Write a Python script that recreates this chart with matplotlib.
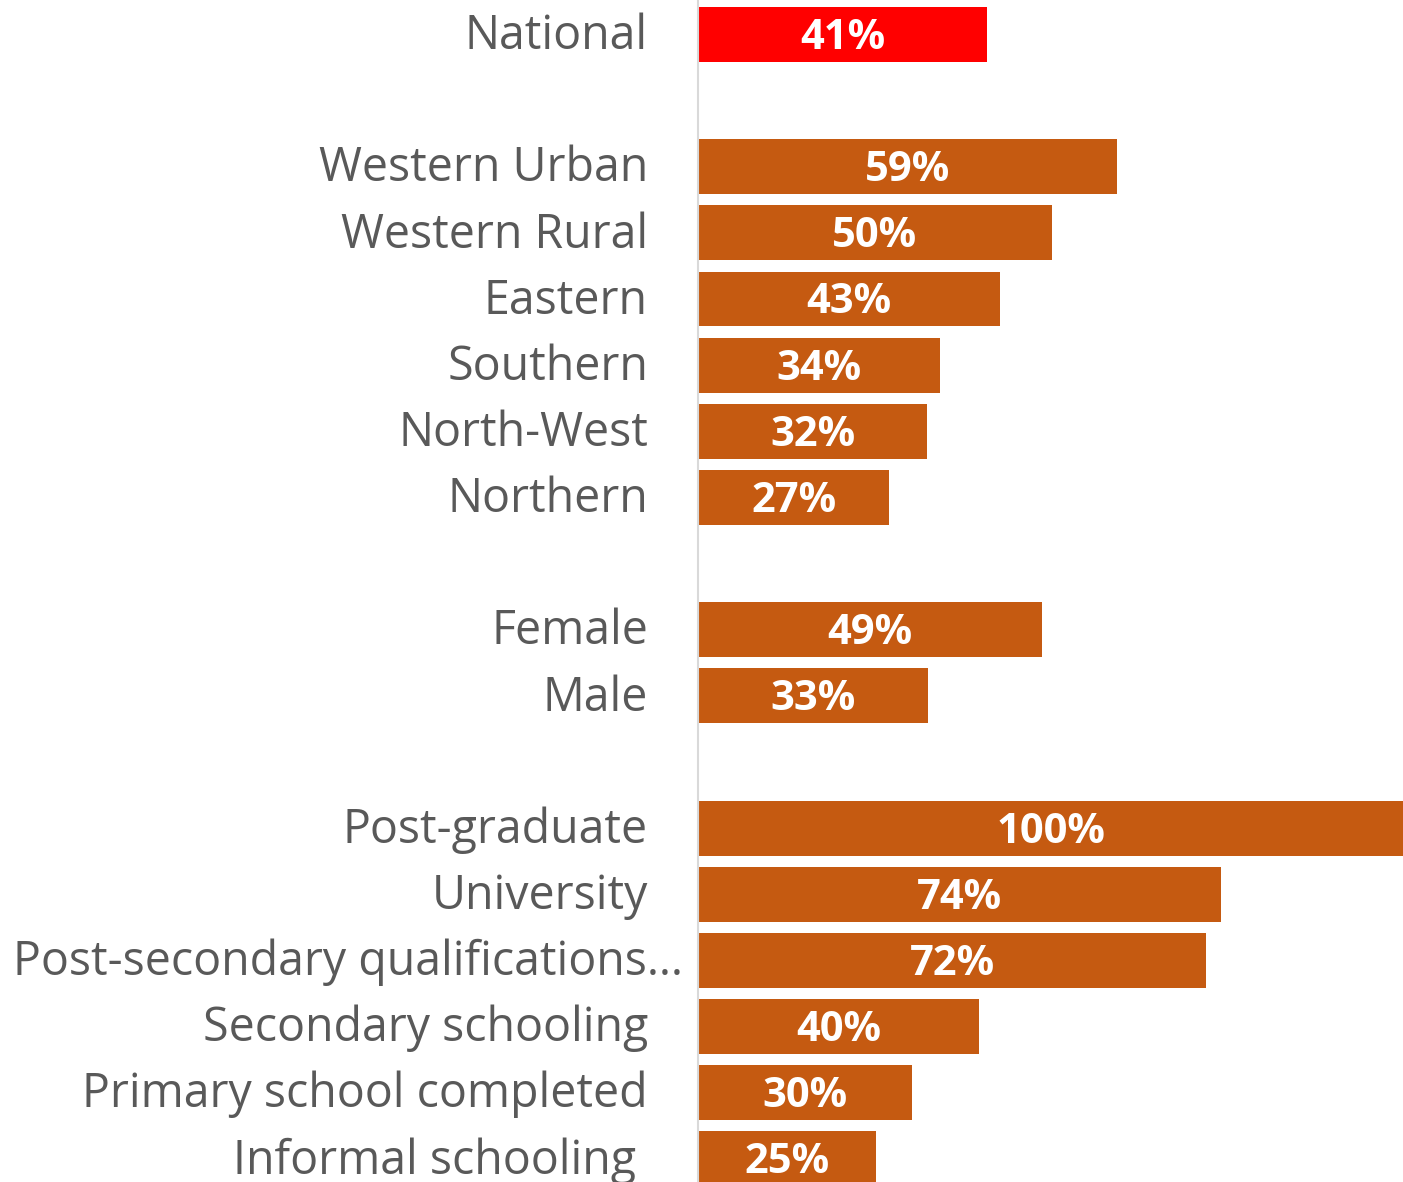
import matplotlib.pyplot as plt

# categories (top to bottom), None = blank spacer row
labels = ["National", None,
          "Western Urban", "Western Rural", "Eastern", "Southern", "North-West", "Northern", None,
          "Female", "Male", None,
          "Post-graduate", "University", "Post-secondary qualifications\u2026",
          "Secondary schooling", "Primary school completed", "Informal schooling "]
values = [41.0, None,
          59.4, 50.2, 42.9, 34.3, 32.5, 27.1, None,
          48.8, 32.6, None,
          100.0, 74.2, 72.1, 39.8, 30.4, 25.3]

red = "#FF0000"
orange = "#C55A11"
grey_text = "#595959"

fig = plt.figure(figsize=(14.03, 11.82), dpi=100)
ax = fig.add_axes([698 / 1403, 0, 1 - 698 / 1403, 1])

for i, (lab, v) in enumerate(zip(labels, values)):
    if lab is None:
        continue
    col = red if i == 0 else orange
    ax.barh(i, v, height=0.83, color=col, left=0)
    ax.text(v / 2, i + 0.06, f"{v:.0f}%", ha="center", va="center", color="white",
            fontsize=30, fontweight="bold", family="Open Sans")
    x = -7.1
    if lab.startswith("Post-secondary"):
        x = -2.1
    ax.text(x, i + 0.03, lab, ha="right", va="center", color=grey_text,
            fontsize=33.5, family="Open Sans", clip_on=False)

ax.set_xlim(0, 100)
ax.set_ylim(17.35, -0.52)
ax.set_xticks([])
ax.set_yticks([])
for s in ["top", "right", "bottom"]:
    ax.spines[s].set_visible(False)
ax.spines["left"].set_color("#D9D9D9")
ax.spines["left"].set_linewidth(1.5)

fig.savefig("out.png", dpi=100)
